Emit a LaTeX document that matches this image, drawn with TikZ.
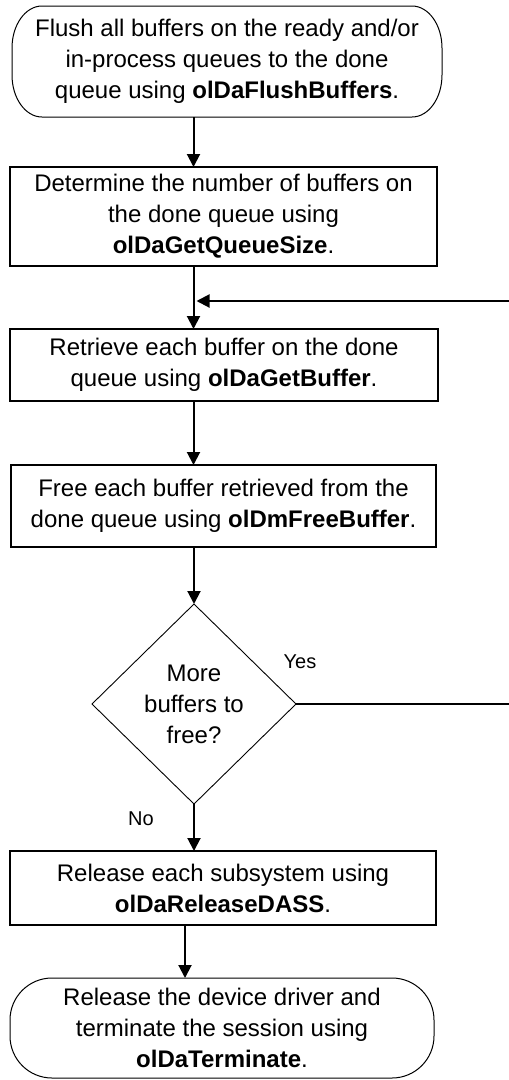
\documentclass[tikz,border=0pt]{standalone}
\usepackage{fontspec}
\setmainfont{Liberation Sans}
\usetikzlibrary{shapes.geometric,arrows.meta,calc}
\newcommand\termoutline[3]{%
  \draw[termline] ([xshift=#2]#1.north west) -- ([xshift=-#2]#1.north east)
    arc[start angle=90,end angle=0,x radius=#2,y radius=#3]
    -- ([yshift=#3]#1.south east)
    arc[start angle=0,end angle=-90,x radius=#2,y radius=#3]
    -- ([xshift=#2]#1.south west)
    arc[start angle=270,end angle=180,x radius=#2,y radius=#3]
    -- ([yshift=-#3]#1.north west)
    arc[start angle=180,end angle=90,x radius=#2,y radius=#3] -- cycle;}
\begin{document}
\begin{tikzpicture}[x=1pt,y=1pt,
  txt/.style={font=\fontsize{24}{31}\selectfont, align=center, inner sep=0pt, outer sep=0pt},
  procbox/.style={txt, draw, line width=2pt, rectangle},
  termbox/.style={txt, rectangle},
  termline/.style={line width=1pt},
  decbox/.style={txt, draw, line width=0.9pt, diamond, aspect=1.02, minimum width=204pt, minimum height=200pt},
  flow/.style={line width=2pt, -{Triangle[length=13pt,width=13pt]}},
  plainline/.style={line width=2pt},
  lbl/.style={font=\fontsize{20}{24}\selectfont, inner sep=0pt}
]
\useasboundingbox (0,0) rectangle (509,-1080);
\coordinate (ax) at (193.5,0);
\coordinate (ax2) at (185,0);

\node[termbox, minimum width=430pt, minimum height=111pt] (t1) at (227,-61.5) {Flush all buffers on the ready and/or\\ in-process queues to the done\\ queue using \textbf{olDaFlushBuffers}.};
\termoutline{t1}{30pt}{42pt}
\node[procbox, minimum width=427pt, minimum height=99pt] (b2) at (223.5,-216.5) {Determine the number of buffers on\\ the done queue using\\ \textbf{olDaGetQueueSize}.};
\node[procbox, minimum width=428pt, minimum height=72pt] (b3) at (224,-365) {Retrieve each buffer on the done\\ queue using \textbf{olDaGetBuffer}.};
\node[procbox, minimum width=425pt, minimum height=82pt] (b4) at (223.5,-506) {Free each buffer retrieved from the\\ done queue using \textbf{olDmFreeBuffer}.};
\node[decbox] (d) at (194,-704) {More\\ buffers to\\ free?};
\node[procbox, minimum width=426pt, minimum height=74pt] (b5) at (223,-888) {Release each subsystem using\\ \textbf{olDaReleaseDASS}.};
\node[termbox, minimum width=424pt, minimum height=100pt] (t6) at (222,-1028) {Release the device driver and\\ terminate the session using\\ \textbf{olDaTerminate}.};
\termoutline{t6}{42pt}{42pt}

\coordinate (loopin) at (509,-301);
\coordinate (yesend) at (509,-704);

\draw[flow] (t1.south -| ax) -- (b2.north -| ax);
\draw[flow] (b2.south -| ax) -- (b3.north -| ax);
\draw[flow] (b3.south -| ax) -- (b4.north -| ax);
\draw[flow] (b4.south -| d.north) -- (d.north);
\draw[flow] (d.south) -- (b5.north -| d.south);
\draw[flow] (b5.south -| ax2) -- (t6.north -| ax2);
\draw[flow] (loopin) -- ([xshift=3pt]loopin -| ax);
\draw[plainline] (d.east) -- (yesend);

\node[lbl] (yes) at (300,-662) {Yes};
\node[lbl] (no) at (141,-819) {No};
\end{tikzpicture}
\end{document}
